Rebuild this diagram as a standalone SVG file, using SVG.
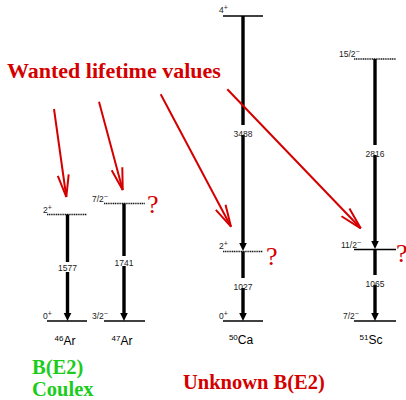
<svg xmlns="http://www.w3.org/2000/svg" width="406" height="400" viewBox="0 0 406 400">
  <style>
    .lvl { stroke: #000; stroke-width: 1.4; fill: none; }
    .lvl.dot { stroke: #1a1a1a; stroke-dasharray: 1.2 0.6; }
    .tr { stroke: #000; stroke-width: 3.4; fill: none; }
    .spin { font-family: "Liberation Sans", Arial, sans-serif; font-size: 8.5px; fill: #222; }
    .sup { font-size: 7px; }
    .eng { font-family: "Liberation Sans", Arial, sans-serif; font-size: 8.5px; fill: #222; text-anchor: middle; }
    .iso { font-family: "Liberation Sans", Arial, sans-serif; font-size: 12px; fill: #000; text-anchor: middle; }
    .q { font-family: "Liberation Serif", "Times New Roman", serif; font-size: 26px; fill: #d40000; }
    .big { font-family: "Liberation Serif", "Times New Roman", serif; font-weight: bold; }
    .red { fill: #d40000; }
    .green { fill: #1ccc1c; }
    .ptr { stroke: #d40000; stroke-width: 2; fill: none; marker-end: url(#open); }
  </style>
  <defs>
    <marker id="open" markerUnits="userSpaceOnUse" orient="auto" markerWidth="30" markerHeight="16" viewBox="-24 -8 26 16" refX="0" refY="0">
      <path d="M-22,-5.5 L0,0 L-22,5.5" stroke="#d40000" stroke-width="2" fill="none"/>
    </marker>
    <path id="head" d="M-3.8,-8 L3.8,-8 L0,0 Z" fill="#000"/>
    <rect id="tag" x="-11" y="-6" width="22" height="10" fill="#fff"/>
  </defs>

  <rect width="406" height="400" fill="#fff"/>

  <!-- 46Ar -->
  <g id="ar46">
    <line class="lvl dot" x1="47" y1="214.5" x2="87" y2="214.5"/>
    <line class="lvl" x1="47" y1="321" x2="87" y2="321"/>
    <line class="tr" x1="67.5" y1="214.5" x2="67.5" y2="314"/>
    <use href="#head" x="67.5" y="321"/>
    <use href="#tag" x="67.5" y="268"/>
    <text class="eng" x="67.5" y="271">1577</text>
    <text class="spin" x="43" y="213">2<tspan class="sup" dy="-3">+</tspan></text>
    <text class="spin" x="43" y="319">0<tspan class="sup" dy="-3">+</tspan></text>
    <text class="iso" x="65" y="345"><tspan font-size="8" dy="-4">46</tspan><tspan dy="4">Ar</tspan></text>
  </g>

  <!-- 47Ar -->
  <g id="ar47">
    <line class="lvl dot" x1="104" y1="203.5" x2="145" y2="203.5"/>
    <line class="lvl" x1="104" y1="321" x2="145" y2="321"/>
    <line class="tr" x1="124" y1="203.5" x2="124" y2="314"/>
    <use href="#head" x="124" y="321"/>
    <use href="#tag" x="124" y="262"/>
    <text class="eng" x="124" y="265.5">1741</text>
    <text class="spin" x="92" y="202">7/2<tspan class="sup" dy="-3">−</tspan></text>
    <text class="spin" x="92" y="319">3/2<tspan class="sup" dy="-3">−</tspan></text>
    <text class="iso" x="122" y="345"><tspan font-size="8" dy="-4">47</tspan><tspan dy="4">Ar</tspan></text>
    <text class="q" x="147" y="213">?</text>
  </g>

  <!-- 50Ca -->
  <g id="ca50">
    <line class="lvl" x1="223" y1="16" x2="263" y2="16"/>
    <line class="lvl dot" x1="223" y1="251.5" x2="263" y2="251.5"/>
    <line class="lvl" x1="223" y1="321" x2="263" y2="321"/>
    <line class="tr" x1="243" y1="16" x2="243" y2="244"/>
    <use href="#head" x="243" y="251"/>
    <line class="tr" x1="243" y1="251.5" x2="243" y2="314"/>
    <use href="#head" x="243" y="321"/>
    <use href="#tag" x="243" y="131"/>
    <text class="eng" x="243" y="137">3488</text>
    <use href="#tag" x="243" y="284"/>
    <text class="eng" x="243" y="289.5">1027</text>
    <text class="spin" x="219" y="13">4<tspan class="sup" dy="-3">+</tspan></text>
    <text class="spin" x="219" y="249">2<tspan class="sup" dy="-3">+</tspan></text>
    <text class="spin" x="219" y="319">0<tspan class="sup" dy="-3">+</tspan></text>
    <text class="iso" x="241" y="344"><tspan font-size="8" dy="-4">50</tspan><tspan dy="4">Ca</tspan></text>
    <text class="q" x="266" y="265">?</text>
  </g>

  <!-- 51Sc -->
  <g id="sc51">
    <line class="lvl dot" x1="354" y1="59" x2="396" y2="59"/>
    <line class="lvl" x1="354" y1="249.5" x2="396" y2="249.5"/>
    <line class="lvl" x1="354" y1="321" x2="396" y2="321"/>
    <line class="tr" x1="375" y1="59" x2="375" y2="242"/>
    <use href="#head" x="375" y="249"/>
    <line class="tr" x1="375" y1="249.5" x2="375" y2="314"/>
    <use href="#head" x="375" y="321"/>
    <use href="#tag" x="375" y="151"/>
    <text class="eng" x="375" y="157">2816</text>
    <use href="#tag" x="375" y="281"/>
    <text class="eng" x="375" y="287">1065</text>
    <text class="spin" x="339" y="57">15/2<tspan class="sup" dy="-3">−</tspan></text>
    <text class="spin" x="341" y="248">11/2<tspan class="sup" dy="-3">−</tspan></text>
    <text class="spin" x="343" y="319">7/2<tspan class="sup" dy="-3">−</tspan></text>
    <text class="iso" x="371" y="344"><tspan font-size="8" dy="-4">51</tspan><tspan dy="4">Sc</tspan></text>
    <text class="q" x="396" y="262">?</text>
  </g>

  <!-- pointers to the levels whose lifetimes are wanted -->
  <g id="pointers">
    <line class="ptr" x1="54" y1="109" x2="66.3" y2="197"/>
    <line class="ptr" x1="99" y1="101.7" x2="122.7" y2="190"/>
    <line class="ptr" x1="160.7" y1="94.3" x2="231" y2="226.7"/>
    <line class="ptr" x1="227.3" y1="89.3" x2="360.7" y2="228.3"/>
  </g>

  <text class="big red" x="7" y="78" font-size="22">Wanted lifetime values</text>
  <text class="big green" x="32" y="374" font-size="20.5">B(E2)</text>
  <text class="big green" x="32" y="395.5" font-size="20.5">Coulex</text>
  <text class="big red" x="183" y="388.5" font-size="20.5">Unknown B(E2)</text>
</svg>
